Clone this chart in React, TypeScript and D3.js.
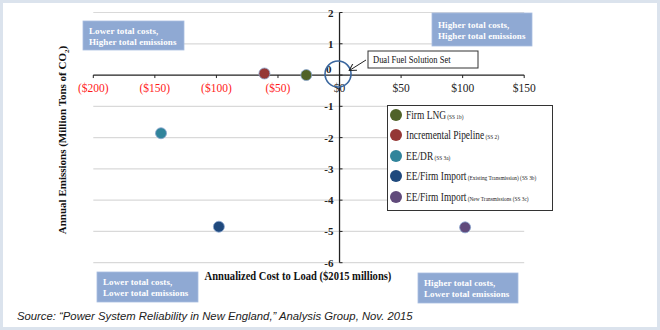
import React from "react";
import * as d3 from "d3";

const seriesNames = ["Firm LNG", "Incremental Pipeline", "EE/DR", "EE/Firm Import", "EE/Firm Import"];
const seriesNotes = ["(SS 1b)", "(SS 2)", "(SS 3a)", "(Existing Transmission) (SS 3b)", "(New Transmissions (SS 3c)"];
const seriesColors = ["#4f6228", "#953735", "#31849b", "#1f497d", "#604a7b"];
const costValues = [-27, -61, -145, -98, 102];
const emissionValues = [0, 0.05, -1.86, -4.85, -4.87];
const xTicks = [-200, -150, -100, -50, 0, 50, 100, 150];
const yTicks = [2, 1, 0, -1, -2, -3, -4, -5, -6];
const quadrantLabels = [
  ["Lower total costs,", "Higher total emissions"],
  ["Higher total costs,", "Higher total emissions"],
  ["Lower total costs,", "Lower total emissions"],
  ["Higher total costs,", "Lower total emissions"],
];

const serif = "'Liberation Serif', 'Times New Roman', serif";

export default function App() {
  const x = d3.scaleLinear().domain([-200, 150]).range([93.3, 524.2]);
  const y = d3.scaleLinear().domain([2, -6]).range([12.5, 262.7]);
  const fmt = (v: number) => (v < 0 ? `($${-v})` : `$${v}`);
  const quadBoxes = [
    { x: 83, y: 21, w: 101, h: 29 },
    { x: 432, y: 13, w: 100, h: 33 },
    { x: 97, y: 272, w: 101, h: 30 },
    { x: 418, y: 273, w: 100, h: 30 },
  ];
  const legendY = [115, 135, 156, 176, 197];
  const circ = { cx: x(0) - 1.5, cy: y(0) - 1, r: 13 };
  return (
    <svg width={660} height={330} style={{ position: "absolute", left: 0, top: 0 }}>
      <defs>
        <marker id="arr" markerWidth="8" markerHeight="8" refX="6" refY="4" orient="auto" markerUnits="userSpaceOnUse">
          <path d="M0,0 L7,4 L0,8" fill="none" stroke="#222" strokeWidth={1} />
        </marker>
      </defs>
      <rect x={0} y={0} width={660} height={330} fill="#ffffff" />
      <rect x={1.5} y={1.5} width={657} height={327} fill="none" stroke="#dbe3ed" strokeWidth={3} />
      {/* gridlines */}
      {yTicks.filter((t) => t !== 0).map((t) => (
        <line key={t} x1={x(-200)} x2={x(150)} y1={y(t)} y2={y(t)} stroke="#d9d9d9" strokeWidth={1.2} />
      ))}
      {/* y axis */}
      <line x1={x(0)} x2={x(0)} y1={y(2)} y2={y(-6)} stroke="#222" strokeWidth={1.3} />
      {yTicks.map((t) => (
        <g key={t}>
          <line x1={x(0)} x2={x(0) + 3} y1={y(t)} y2={y(t)} stroke="#222" />
          {t !== 0 && (
            <text x={x(0) - 6} y={y(t) + 4} textAnchor="end" fontFamily={serif} fontSize={11} fontWeight="bold" fill="#222">
              {t}
            </text>
          )}
        </g>
      ))}
      <text x={x(0) - 8} y={y(0) - 2} textAnchor="end" fontFamily={serif} fontSize={11} fontWeight="bold" fill="#222">0</text>
      {/* x axis */}
      <line x1={x(-200)} x2={x(150)} y1={y(0)} y2={y(0)} stroke="#222" strokeWidth={1.3} />
      {xTicks.map((t) => (
        <g key={t}>
          <line x1={x(t)} x2={x(t)} y1={y(0)} y2={y(0) + 3} stroke="#222" />
          <text x={x(t)} y={y(0) + 17} textAnchor="middle" fontFamily={serif} fontSize={11.5} fill={t < 0 ? "#ff1a1a" : "#222"}>
            {fmt(t)}
          </text>
        </g>
      ))}
      {/* points */}
      {costValues.map((c, i) => (
        <circle key={i} cx={x(c)} cy={y(emissionValues[i])} r={5.5} fill={seriesColors[i]} stroke="#8aa6cf" strokeWidth={0.8} />
      ))}
      {/* dual fuel */}
      <circle cx={circ.cx} cy={circ.cy} r={circ.r} fill="none" stroke="#3b679f" strokeWidth={1.6} />
      <rect x={368} y={51} width={110} height={17} fill="#fff" stroke="#333" strokeWidth={1} />
      <g transform="translate(373,63) scale(0.85,1)">
        <text x={0} y={0} fontFamily={serif} fontSize={10} fill="#111">Dual Fuel Solution Set</text>
      </g>
      <line x1={366} y1={60} x2={circ.cx + circ.r - 1} y2={circ.cy - 4} stroke="#222" strokeWidth={1} markerEnd="url(#arr)" />
      {/* legend */}
      <rect x={387.5} y={105.5} width={165} height={105} fill="#fff" stroke="#333" strokeWidth={1} />
      {seriesNames.map((n, i) => (
        <g key={i}>
          <circle cx={396} cy={legendY[i]} r={6} fill={seriesColors[i]} />
          <g transform={`translate(406,${legendY[i] + 4}) scale(0.82,1)`}>
            <text x={0} y={0} fontFamily={serif} fontSize={11.5} fill="#222">
              {n}
              <tspan fontSize={6.5}>{" " + seriesNotes[i]}</tspan>
            </text>
          </g>
        </g>
      ))}
      {/* quadrant boxes */}
      {quadBoxes.map((b, i) => (
        <g key={i}>
          <rect x={b.x} y={b.y} width={b.w} height={b.h} fill="#8fa9d3" stroke="#a9bde0" strokeWidth={0.8} />
          <text x={b.x + 6} y={b.y + b.h / 2 - 2} fontFamily={serif} fontSize={9} fontWeight="bold" fill="#fff" letterSpacing={0.1}>
            {quadrantLabels[i][0]}
          </text>
          <text x={b.x + 6} y={b.y + b.h / 2 + 9} fontFamily={serif} fontSize={9} fontWeight="bold" fill="#fff" letterSpacing={0.1}>
            {quadrantLabels[i][1]}
          </text>
        </g>
      ))}
      {/* axis titles */}
      <g transform="translate(298,280) scale(0.88,1)">
        <text x={0} y={0} textAnchor="middle" fontFamily={serif} fontSize={12} fontWeight="bold" fill="#111">
          Annualized Cost to Load ($2015 millions)
        </text>
      </g>
      <text transform="translate(66,140) rotate(-90)" textAnchor="middle" fontFamily={serif} fontSize={11} fontWeight="bold" fill="#111">
        Annual Emissions (Million Tons of CO<tspan fontSize={7} dy={3}>2</tspan><tspan dy={-3}>)</tspan>
      </text>
      {/* source */}
      <text x={17} y={320} fontFamily="'Liberation Sans', Arial, sans-serif" fontSize={11.3} fontStyle="italic" fill="#222">
        Source: “Power System Reliability in New England,” Analysis Group, Nov. 2015
      </text>
    </svg>
  );
}
